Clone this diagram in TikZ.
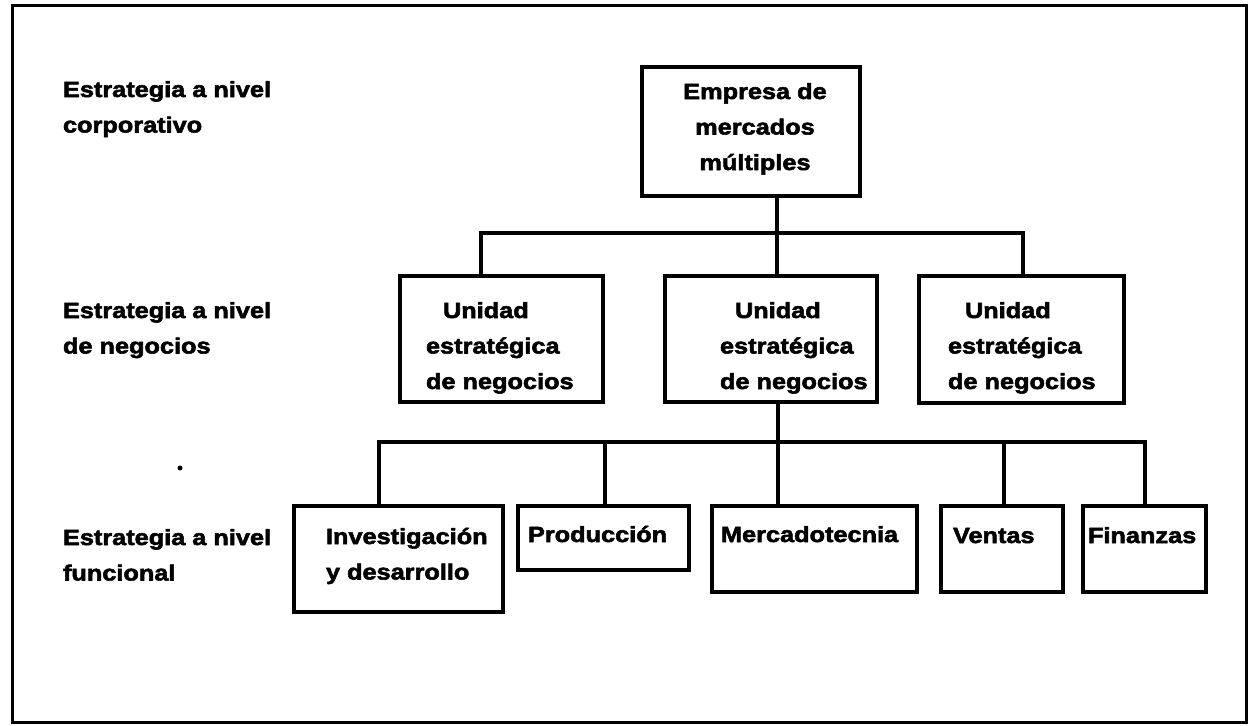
\documentclass[tikz,border=0pt]{standalone}
\usepackage{fontspec}
\newfontfamily\lblfont{Liberation Sans}[FakeStretch=1.15,FakeBold=2.5]
\begin{document}
\begin{tikzpicture}[x=1pt,y=-1pt,
  box/.style={draw=black,line width=3.6pt,rectangle,inner sep=0pt,outer sep=0pt,anchor=north west},
  lbl/.style={font=\lblfont\bfseries\fontsize{22}{35.5}\selectfont,inner sep=0pt,outer sep=0pt,align=left,anchor=base west},
  conn/.style={line width=3.4pt,line cap=rect}]
\useasboundingbox (0,0) rectangle (1252,725);
\draw[line width=3pt] (12,6) rectangle (1246,722);
\fill (180,468) circle (2.5);
% level labels (anchor = baseline of the last line)
\node[lbl] (l1) at (63,132.5) {Estrategia a nivel\\corporativo};
\node[lbl] (l2) at (63,353.5) {Estrategia a nivel\\de negocios};
\node[lbl] (l3) at (63,580.5) {Estrategia a nivel\\funcional};
% boxes
\node[box,minimum width=218pt,minimum height=129pt] (top) at (642,67) {};
\node[box,minimum width=203pt,minimum height=126pt] (s1) at (400,276) {};
\node[box,minimum width=212pt,minimum height=126pt] (s2) at (665,276) {};
\node[box,minimum width=205pt,minimum height=127pt] (s3) at (919,276) {};
\node[box,minimum width=209pt,minimum height=106pt] (f1) at (294,506) {};
\node[box,minimum width=171pt,minimum height=64pt] (f2) at (518,506) {};
\node[box,minimum width=205pt,minimum height=86pt] (f3) at (712,506) {};
\node[box,minimum width=122pt,minimum height=86pt] (f4) at (941,506) {};
\node[box,minimum width=123pt,minimum height=86pt] (f5) at (1083,506) {};
% texts
\node[lbl,align=center,anchor=base] (ttop) at (755,170) {Empresa de\\mercados\\múltiples};
\node[lbl] (ts1) at (426,389) {\hspace*{17pt}Unidad\\estratégica\\de negocios};
\node[lbl] (ts2) at (720,389) {\hspace*{15pt}Unidad\\estratégica\\de negocios};
\node[lbl] (ts3) at (948,389) {\hspace*{17pt}Unidad\\estratégica\\de negocios};
\node[lbl] (tf1) at (326,579.5) {Investigación\\y desarrollo};
\node[lbl] (tf2) at (528,542) {Producción};
\node[lbl] (tf3) at (721,542) {Mercadotecnia};
\node[lbl] (tf4) at (953,543) {Ventas};
\node[lbl] (tf5) at (1088,543) {Finanzas};
% bus coordinates
\coordinate (a0) at (777,233);
\coordinate (a1) at (481,233);
\coordinate (a3) at (1023,233);
\coordinate (b0) at (778,442);
\coordinate (b1) at (379,442);
\coordinate (b2) at (605,442);
\coordinate (b4) at (1004,442);
\coordinate (b5) at (1145,442);
% connectors
\draw[conn] (a0 |- top.south) -- (a0);
\draw[conn] (a1) -- (a3);
\draw[conn] (a1) -- (a1 |- s1.north);
\draw[conn] (a0) -- (a0 |- s2.north);
\draw[conn] (a3) -- (a3 |- s3.north);
\draw[conn] (b0 |- s2.south) -- (b0);
\draw[conn] (b1) -- (b5);
\draw[conn] (b1) -- (b1 |- f1.north);
\draw[conn] (b2) -- (b2 |- f2.north);
\draw[conn] (b0) -- (b0 |- f3.north);
\draw[conn] (b4) -- (b4 |- f4.north);
\draw[conn] (b5) -- (b5 |- f5.north);
\end{tikzpicture}
\end{document}
